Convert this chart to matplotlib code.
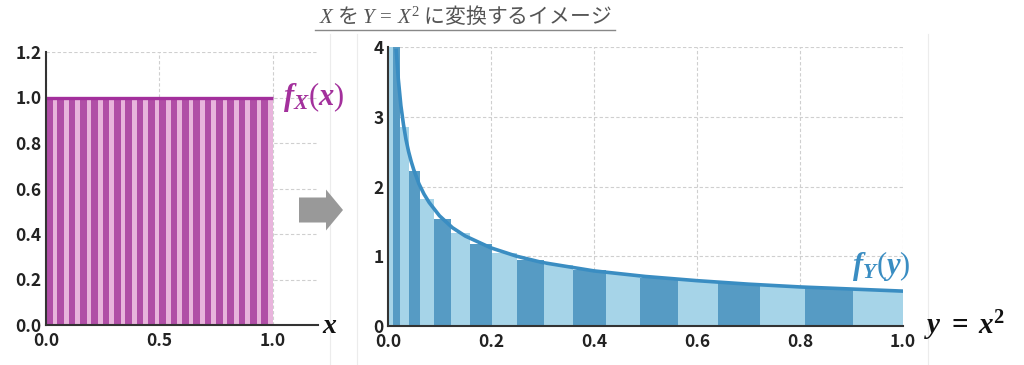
import matplotlib
matplotlib.use("Agg")
import matplotlib.pyplot as plt
import matplotlib.patches as mpatches
from matplotlib.lines import Line2D

plt.rcParams['font.family'] = ['Noto Sans CJK JP', 'DejaVu Sans']
plt.rcParams['mathtext.fontset'] = 'custom'
plt.rcParams['mathtext.it'] = 'Liberation Serif:italic'
plt.rcParams['mathtext.bf'] = 'Liberation Serif:italic:bold'
plt.rcParams['mathtext.sf'] = 'Liberation Serif:bold'
plt.rcParams['mathtext.rm'] = 'Liberation Serif'

# left panel: X ~ U(0, 1), 20 bins of width 0.05
x_bins = [0.00, 0.05, 0.10, 0.15, 0.20, 0.25, 0.30, 0.35, 0.40, 0.45,
          0.50, 0.55, 0.60, 0.65, 0.70, 0.75, 0.80, 0.85, 0.90, 0.95]
x_heights = [1.0, 1.0, 1.0, 1.0, 1.0, 1.0, 1.0, 1.0, 1.0, 1.0,
             1.0, 1.0, 1.0, 1.0, 1.0, 1.0, 1.0, 1.0, 1.0, 1.0]

# right panel: same bins mapped through y = x^2
y_edges = [0.0, 0.0025, 0.01, 0.0225, 0.04, 0.0625, 0.09, 0.1225, 0.16, 0.2025,
           0.25, 0.3025, 0.36, 0.4225, 0.49, 0.5625, 0.64, 0.7225, 0.81, 0.9025, 1.0]
y_heights = [20.0, 6.67, 4.0, 2.86, 2.22, 1.82, 1.54, 1.33, 1.18, 1.05,
             0.95, 0.87, 0.80, 0.74, 0.69, 0.65, 0.61, 0.57, 0.54, 0.51]

# density curve f_Y(y)
curve_y = [0.016, 0.02, 0.025, 0.03, 0.035, 0.04, 0.045, 0.05, 0.06, 0.07, 0.08,
           0.1, 0.125, 0.15, 0.2, 0.25, 0.3, 0.4, 0.5, 0.6, 0.7, 0.8, 0.9, 1.0]
curve_f = [3.95, 3.54, 3.16, 2.89, 2.67, 2.50, 2.36, 2.24, 2.04, 1.89, 1.77,
           1.58, 1.41, 1.29, 1.12, 1.00, 0.91, 0.79, 0.71, 0.65, 0.60, 0.56, 0.53, 0.50]

purple_dark = '#b04ea6'
purple_light = '#e8b4dc'
purple_line = '#a3309c'
blue_dark = '#569bc4'
blue_light = '#a6d4e8'
blue_line = '#3a8dc2'
grid_c = '#cfcfcf'
tick_c = '#222222'

fig = plt.figure(figsize=(10.24, 3.65), dpi=100)


def style(ax):
    ax.grid(True, linestyle=(0, (3, 2)), color=grid_c, linewidth=0.8)
    ax.set_axisbelow(True)
    ax.patch.set_alpha(0)
    for s in ['top', 'right']:
        ax.spines[s].set_visible(False)
    for s in ['left', 'bottom']:
        ax.spines[s].set_color('#333333')
        ax.spines[s].set_linewidth(1.5)
    ax.tick_params(length=0, labelsize=12.5, colors=tick_c)
    ax.tick_params(axis='x', pad=5)
    ax.tick_params(axis='y', pad=3)
    for lab in ax.get_xticklabels() + ax.get_yticklabels():
        lab.set_fontweight('bold')


# ---- faint panel borders (behind everything)
for xp in [330, 357, 928]:
    fig.add_artist(Line2D([xp / 1024, xp / 1024], [0, 1 - 34 / 365],
                          color='#ececec', linewidth=0.8, zorder=-5))

# ---- left panel
ax1 = fig.add_axes([46 / 1024, 40 / 365, 272 / 1024, 273 / 365])
ax1.bar(x_bins, x_heights, width=0.05, align='edge', color=purple_light, linewidth=0)
ax1.bar(x_bins, x_heights, width=0.03, align='edge', color=purple_dark, linewidth=0)
ax1.plot([0, 1.0], [1.0, 1.0], color=purple_line, linewidth=2.4, solid_capstyle='butt')
ax1.set_xlim(0, 1.2)
ax1.set_ylim(0, 1.2)
ax1.set_xticks([0.0, 0.5, 1.0])
ax1.set_xticklabels(['0.0', '0.5', '1.0'])
ax1.set_yticks([0.0, 0.2, 0.4, 0.6, 0.8, 1.0, 1.2])
ax1.set_yticklabels(['0.0', '0.2', '0.4', '0.6', '0.8', '1.0', '1.2'])
style(ax1)
ax1.text(1.045, 1.0, r'$\mathbf{f}_{\mathbf{X}}\mathrm{(}\mathbf{x}\mathrm{)}$',
         color=purple_line, fontsize=22, ha='left', va='center')
ax1.text(1.015, 0.0, r'$\mathbf{x}$', color='#111111', fontsize=20,
         ha='left', va='center', transform=ax1.transAxes)

# ---- right panel
ax2 = fig.add_axes([388 / 1024, 39 / 365, 515 / 1024, 279 / 365])
widths = [y_edges[i + 1] - y_edges[i] for i in range(len(y_heights))]
colors = [blue_dark if i % 2 == 0 else blue_light for i in range(len(y_heights))]
ax2.bar(y_edges[:-1], y_heights, width=widths, align='edge', color=colors, linewidth=0)
ax2.plot(curve_y, curve_f, color=blue_line, linewidth=2.6)
ax2.set_xlim(0, 1.0)
ax2.set_ylim(0, 4)
ax2.set_xticks([0.0, 0.2, 0.4, 0.6, 0.8, 1.0])
ax2.set_xticklabels(['0.0', '0.2', '0.4', '0.6', '0.8', '1.0'])
ax2.set_yticks([0, 1, 2, 3, 4])
ax2.set_yticklabels(['0', '1', '2', '3', '4'])
style(ax2)
ax2.text(0.9, 0.86, r'$\mathbf{f}_{\mathbf{Y}}\mathrm{(}\mathbf{y}\mathrm{)}$',
         color=blue_line, fontsize=22, ha='left', va='center')
ax2.text(1.04, 0.0, r'$\mathbf{y}\ \mathsf{=}\ \mathbf{x}^{\mathsf{2}}$', color='#111111',
         fontsize=21, ha='left', va='center', transform=ax2.transAxes)

# ---- arrow between panels (inch coords, 100 px per inch)
arrow = mpatches.FancyArrow(2.99, 1.55, 0.44, 0.0, width=0.25, head_width=0.41,
                            head_length=0.17, length_includes_head=True,
                            color='#999999', linewidth=0,
                            transform=fig.dpi_scale_trans)
fig.patches.append(arrow)

# ---- title
fig.text(465 / 1024, 1 - 16 / 365, r'$X$ を $Y\,=\,X^2$ に変換するイメージ',
         ha='center', va='center', fontsize=15, color='#555555')
fig.add_artist(Line2D([315 / 1024, 615 / 1024], [1 - 30 / 365, 1 - 30 / 365],
                      color='#888888', linewidth=1.0))

fig.savefig('out.png', dpi=100)
